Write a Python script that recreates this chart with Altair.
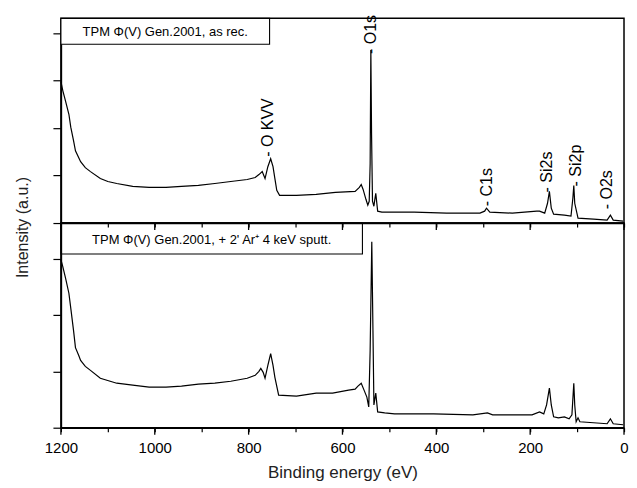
import altair as alt
import pandas as pd

# ---- data: binding energy (eV) and intensity (a.u.) ----
top_energy = [1200, 1196, 1190, 1183, 1179, 1173, 1169, 1162, 1158, 1148, 1137, 1116,
              1100, 1081, 1047, 1012, 976, 943, 907, 872, 838, 803, 786, 778, 771, 765,
              759, 753, 748, 744, 740, 734, 698, 656, 615, 573, 564, 560, 556, 550, 546,
              543, 541, 539.5, 538, 536, 533, 531, 529, 525, 516, 447, 378, 307, 297,
              293, 286, 238, 186, 180, 169, 163, 159, 155, 150, 127, 113, 109, 107, 105,
              98, 65, 36, 29, 23, 2]
top_intensity = [143, 134, 123, 110, 97, 83, 73, 66, 62, 56, 52, 45,
                 42, 40, 37, 36, 36, 37, 38, 40, 42, 44, 46, 49, 52, 45,
                 57, 65, 57, 45, 33, 28, 28, 29, 31, 32, 36, 39, 34, 24, 18,
                 22, 60, 175, 90, 22, 17, 24, 30, 12, 11, 11, 10, 10, 12,
                 15, 11, 10, 12, 12, 10, 20, 32, 15, 9, 8, 7, 25, 38, 20,
                 5, 4, 3, 8, 3, 2]

bottom_energy = [1200, 1196, 1190, 1183, 1179, 1173, 1169, 1162, 1158, 1148, 1137, 1116,
                 1081, 1047, 1012, 976, 943, 907, 872, 838, 803, 786, 778, 774, 769, 765,
                 759, 753, 748, 744, 736, 698, 656, 621, 587, 573, 567, 560, 554, 548,
                 544, 541, 537.5, 535, 533, 529, 525, 510, 489, 406, 322, 291, 280, 196,
                 180, 171, 165, 159, 155, 150, 140, 127, 117, 111, 107, 105, 102, 98, 94,
                 65, 36, 29, 23, 2]
bottom_intensity = [170, 163, 151, 136, 121, 98, 81, 73, 68, 62, 58, 50,
                    45, 43, 41, 41, 42, 44, 45, 47, 50, 53, 57, 60, 56, 50,
                    63, 75, 63, 51, 33, 32, 35, 35, 38, 39, 42, 45, 38, 31,
                    21, 78, 188, 98, 23, 35, 16, 15, 14, 14, 13, 15, 13, 13,
                    16, 14, 23, 40, 23, 11, 10, 11, 9, 13, 45, 23, 6, 10, 6,
                    5, 4, 9, 4, 3]

peak_names = ["- O KVV", "- O1s", "- C1s", "- Si2s", "- Si2p", "- O2s"]
peak_energy = [759, 539, 293, 165, 102, 36]
peak_level = [67, 171, 17, 31, 37, 14]

top_label = "TPM \u03a6(V) Gen.2001, as rec."
bottom_label = "TPM \u03a6(V) Gen.2001, + 2' Ar\u207a 4 keV sputt."

major_x_ticks = list(range(0, 1201, 200))
minor_x_ticks = list(range(0, 1201, 50))
top_y_ticks = [0, 48, 96, 144, 192]
bottom_y_ticks = [0, 57, 114, 171]

FONT = "Liberation Sans"
W, H = 564, 205
MAJ, MIN = 7, 4
TOP_BOX = (209, 26)
BOT_BOX = (302, 31)

top_df = pd.DataFrame({"energy": top_energy, "intensity": top_intensity})
bot_df = pd.DataFrame({"energy": bottom_energy, "intensity": bottom_intensity})
peak_df = pd.DataFrame({"energy": peak_energy, "intensity": peak_level, "name": peak_names})
major_df = pd.DataFrame({"energy": major_x_ticks})

xscale = alt.Scale(domain=[0, 1200], reverse=True, nice=False, zero=False)
yscale = alt.Scale(domain=[0, 207], nice=False)


def label_box(text, w, h, y0):
    lab = pd.DataFrame({"label": [text]})
    box = alt.Chart(lab).mark_rect(fill="white", stroke="black", strokeWidth=1.1).encode(
        x=alt.value(0), x2=alt.value(w), y=alt.value(y0), y2=alt.value(y0 + h)
    )
    txt = alt.Chart(lab).mark_text(font=FONT, fontSize=13, color="black").encode(
        x=alt.value(w / 2), y=alt.value(y0 + h / 2 + 1), text="label:N"
    )
    return [box, txt]


def major_rules(y0, y1):
    # longer tick marks at the labelled energies
    return alt.Chart(major_df).mark_rule(color="black", strokeWidth=1.3).encode(
        x=alt.X("energy:Q", scale=xscale), y=alt.value(y0), y2=alt.value(y1)
    )


# ---------------- top panel ----------------
top_line = alt.Chart(top_df).mark_line(color="black", strokeWidth=1.2).encode(
    x=alt.X("energy:Q", scale=xscale,
            axis=alt.Axis(values=minor_x_ticks, ticks=True, tickSize=MIN, tickColor="black",
                          tickWidth=1.2, labels=False, title=None, zindex=1)),
    y=alt.Y("intensity:Q", scale=yscale,
            axis=alt.Axis(values=top_y_ticks, labels=False, tickSize=8, tickColor="black",
                          tickWidth=1.2, title="Intensity (a.u.)",
                          titleY=H + 4, titleFontSize=16, titlePadding=22)),
)
peaks = alt.Chart(peak_df).mark_text(angle=270, align="left", baseline="middle", font=FONT,
                                     fontSize=16, color="black").encode(
    x="energy:Q", y="intensity:Q", text="name:N"
)
top = alt.layer(
    top_line, peaks,
    *label_box(top_label, *TOP_BOX, 0),
    *label_box(bottom_label, *BOT_BOX, H),   # label of the lower panel, drawn under the divider ticks
    major_rules(H, H + MAJ),
).properties(width=W, height=H)

# ---------------- bottom panel ----------------
bot_line = alt.Chart(bot_df).mark_line(color="black", strokeWidth=1.2).encode(
    x=alt.X("energy:Q", scale=xscale,
            axis=alt.Axis(values=minor_x_ticks, ticks=True, tickSize=MIN, tickColor="black",
                          tickWidth=1.2, format="d",
                          labelExpr="datum.value % 200 === 0 ? datum.label : ''",
                          labelOverlap=False, labelFlush=False, labelFontSize=15, labelPadding=9,
                          title="Binding energy (eV)", titleFontSize=17, titlePadding=9)),
    y=alt.Y("intensity:Q", scale=yscale,
            axis=alt.Axis(values=bottom_y_ticks, labels=False, tickSize=8, tickColor="black",
                          tickWidth=1.2, title=None)),
)
bottom = alt.layer(bot_line, major_rules(H, H + MAJ)).properties(width=W, height=H)

chart = alt.vconcat(top, bottom, spacing=0, bounds="flush").properties(
    padding={"left": 5, "top": 5, "right": 0, "bottom": 0}
).configure_view(
    stroke="black", strokeWidth=1.5
).configure_axis(
    grid=False, domainColor="black", domainWidth=1.5,
    labelFont=FONT, titleFont=FONT, labelColor="black", titleColor="#222222",
    titleFontWeight="normal"
)

chart.save("out.html", embed_options={"renderer": "svg", "actions": False})
